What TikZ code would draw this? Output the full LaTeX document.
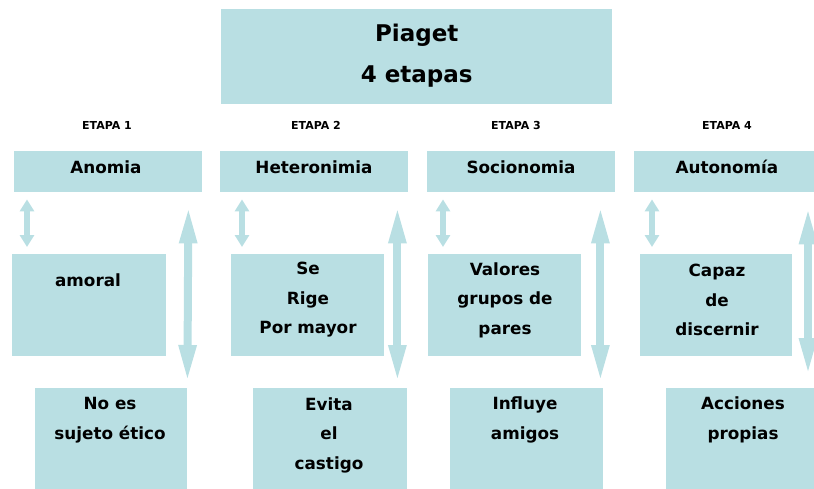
\documentclass[tikz,border=0pt]{standalone}
\usepackage{fontspec}
\setmainfont{DejaVu Sans}
\usetikzlibrary{arrows.meta}
\definecolor{piagetblue}{RGB}{185,223,227}

\begin{document}
\begin{tikzpicture}[x = 1pt, y = -1pt,
        box/.style = {fill = piagetblue, anchor = north west, inner sep = 0pt},
        txt/.style = {font = \bfseries\fontsize{16.8}{29.5}\selectfont, align = center, inner sep = 0pt},
        etapa/.style = {font = \bfseries\fontsize{11}{12}\selectfont, inner sep = 0pt},
        shortarrow/.style = {draw = piagetblue, line width = 6pt, {Triangle[length = 12pt, width = 14pt]}-{Triangle[length = 12pt, width = 14pt]}},
        longarrow/.style = {draw = piagetblue, line width = 8pt, {Triangle[length = 38pt, width = 16pt]}-{Triangle[length = 38pt, width = 16pt]}}]
    \useasboundingbox (0, 0) rectangle (814, 488);
    \clip (0, 0) rectangle (814, 488);

    \node[box, minimum width = 391pt, minimum height = 95pt] (piaget) at (221, 9) {};
    \node[txt, font = \bfseries\fontsize{23}{41}\selectfont] at ([yshift = 1pt]piaget.center) {Piaget\\4 etapas};

    \node[etapa] (e1) at (107, 125) {ETAPA 1};
    \node[etapa] (e2) at (316, 125) {ETAPA 2};
    \node[etapa] (e3) at (516, 125) {ETAPA 3};
    \node[etapa] (e4) at (727, 125) {ETAPA 4};

    \node[box, minimum width = 188pt, minimum height = 41pt] (anomia) at (14, 151) {};
    \node[box, minimum width = 188pt, minimum height = 41pt] (heteronimia) at (220, 151) {};
    \node[box, minimum width = 188pt, minimum height = 41pt] (socionomia) at (427, 151) {};
    \node[box, minimum width = 188pt, minimum height = 41pt] (autonomia) at (634, 151) {};
    \node[txt] at (106, 167) {Anomia};
    \node[txt] at (314, 167) {Heteronimia};
    \node[txt] at (521, 167) {Socionomia};
    \node[txt] at (727, 167) {Autonomía};

    \node[box, minimum width = 154pt, minimum height = 102pt] (amoral) at (12, 254) {};
    \node[box, minimum width = 153pt, minimum height = 102pt] (rige) at (231, 254) {};
    \node[box, minimum width = 153pt, minimum height = 102pt] (valores) at (428, 254) {};
    \node[box, minimum width = 152pt, minimum height = 102pt] (capaz) at (640, 254) {};
    \node[txt] at (88, 280) {amoral};
    \node[txt] at (308, 300) {Se\\Rige\\Por mayor};
    \node[txt] at (505, 300) {Valores\\grupos de\\pares};
    \node[txt] at (717, 300) {Capaz\\de\\discernir};

    \node[box, minimum width = 152pt, minimum height = 105pt] (sujeto) at (35, 388) {};
    \node[box, minimum width = 154pt, minimum height = 105pt] (castigo) at (253, 388) {};
    \node[box, minimum width = 153pt, minimum height = 105pt] (amigos) at (450, 388) {};
    \node[box, minimum width = 152pt, minimum height = 105pt] (propias) at (666, 388) {};
    \node[txt] at (110, 420) {No es\\sujeto ético};
    \node[txt] at (329, 435) {Evita\\el\\castigo};
    \node[txt] at (525, 420) {Influye\\amigos};
    \node[txt] at (743, 420) {Acciones\\propias};

    \draw[shortarrow] ([xshift = 13pt, yshift = -7pt]anomia.south west) -- ([xshift = 15pt, yshift = 7pt]amoral.north west);
    \draw[shortarrow] ([xshift = 22pt, yshift = -7pt]heteronimia.south west) -- ([xshift = 11pt, yshift = 7pt]rige.north west);
    \draw[shortarrow] ([xshift = 16pt, yshift = -7pt]socionomia.south west) -- ([xshift = 15pt, yshift = 7pt]valores.north west);
    \draw[shortarrow] ([xshift = 18pt, yshift = -7pt]autonomia.south west) -- ([xshift = 12pt, yshift = 7pt]capaz.north west);

    \draw[longarrow] ([xshift = -14pt, yshift = -13pt]anomia.south east) -- ([yshift = 5pt]sujeto.north east);
    \draw[longarrow] ([xshift = -11pt, yshift = -13pt]heteronimia.south east) -- ([xshift = -10pt, yshift = 5pt]castigo.north east);
    \draw[longarrow] ([xshift = -15pt, yshift = -13pt]socionomia.south east) -- ([xshift = -3pt, yshift = 5pt]amigos.north east);
    \draw[longarrow] ([xshift = 174pt, yshift = -14pt]autonomia.south west) -- ([xshift = 142pt, yshift = 12pt]propias.north west);
\end{tikzpicture}
\end{document}
